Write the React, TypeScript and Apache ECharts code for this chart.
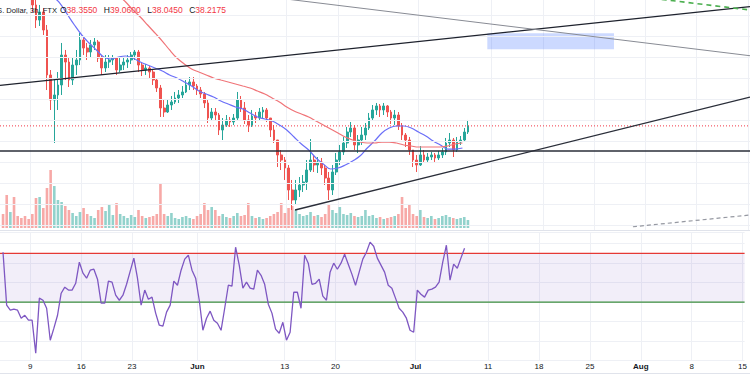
import React, { useEffect, useRef } from 'react';
import * as echarts from 'echarts';

// time axis: days after 9 May 2022 (00:00); candles are 12h buckets
const FIRST_CANDLE_DAY = -3.75;
const CANDLE_STEP_DAYS = 0.5;
const X_MIN = -4.166;
const X_MAX = 98.28;
const PRICE_MIN = 23.343;
const PRICE_MAX = 56.2;

const opens = [
  86.0, 84.5, 83.0, 85.2, 81.0, 79.6, 78.2, 76.5, 71.0, 55.49,
  53.34, 54.49, 51.91, 45.49, 41.91, 42.63, 44.06, 48.34, 47.34, 44.77,
  46.91, 47.63, 50.49, 49.34, 48.77, 49.77, 50.2, 47.91, 46.49, 47.34,
  47.63, 47.91, 46.2, 46.91, 47.34, 47.63, 48.34, 48.77, 46.91, 46.2,
  46.49, 45.91, 44.77, 43.63, 40.77, 40.2, 41.2, 41.63, 42.2, 42.63,
  43.06, 44.06, 44.49, 43.91, 43.34, 42.77, 41.49, 39.34, 40.2, 39.77,
  37.63, 38.34, 39.06, 38.77, 39.34, 41.91, 40.77, 39.06, 38.34, 39.63,
  39.34, 40.2, 40.49, 39.34, 37.63, 36.2, 34.06, 33.34, 32.2, 29.06,
  27.63, 29.06, 29.77, 30.2, 31.91, 33.34, 32.63, 33.06, 32.2, 30.77,
  29.06, 31.63, 33.34, 34.49, 35.77, 37.34, 37.91, 35.49, 36.2, 36.91,
  37.91, 39.34, 40.49, 41.06, 40.49, 41.06, 40.2, 39.34, 39.77, 38.2,
  36.91, 36.2, 34.77, 33.34, 32.63, 34.06, 33.34, 33.77, 34.06, 33.63,
  34.06, 34.49, 35.77, 36.2, 34.77, 35.91, 36.2, 37.34,
];
const closes = [
  84.5, 83.0, 85.2, 81.0, 79.6, 78.2, 76.5, 71.0, 55.49, 53.34,
  54.49, 51.91, 45.49, 41.91, 42.63, 44.06, 48.34, 47.34, 44.77, 46.91,
  47.63, 50.49, 49.34, 48.77, 49.77, 50.2, 47.91, 46.49, 47.34, 47.63,
  47.91, 46.2, 46.91, 47.34, 47.63, 48.34, 48.77, 46.91, 46.2, 46.49,
  45.91, 44.77, 43.63, 40.77, 40.2, 41.2, 41.63, 42.2, 42.63, 43.06,
  44.06, 44.49, 43.91, 43.34, 42.77, 41.49, 39.34, 40.2, 39.77, 37.63,
  38.34, 39.06, 38.77, 39.34, 41.91, 40.77, 39.06, 38.34, 39.63, 39.34,
  40.2, 40.49, 39.34, 37.63, 36.2, 34.06, 33.34, 32.2, 29.06, 27.63,
  29.06, 29.77, 30.2, 31.91, 33.34, 32.63, 33.06, 32.2, 30.77, 29.06,
  31.63, 33.34, 34.49, 35.77, 37.34, 37.91, 35.49, 36.2, 36.91, 37.91,
  39.34, 40.49, 41.06, 40.49, 41.06, 40.2, 39.34, 39.77, 38.2, 36.91,
  36.2, 34.77, 33.34, 32.63, 34.06, 33.34, 33.77, 34.06, 33.63, 34.06,
  34.49, 35.77, 36.2, 34.77, 35.91, 36.2, 37.34, 38.2175,
];
const highs = [
  87.5, 85.6, 86.4, 85.9, 82.2, 80.5, 79.0, 77.1, 71.6, 56.63,
  55.49, 55.06, 52.63, 46.2, 45.06, 45.91, 50.06, 49.06, 47.91, 47.91,
  49.06, 51.49, 50.77, 50.06, 50.49, 50.77, 50.49, 48.34, 48.34, 48.34,
  48.34, 48.06, 47.91, 48.06, 48.34, 48.77, 49.06, 49.06, 47.2, 47.06,
  46.77, 46.2, 45.06, 44.06, 41.91, 41.91, 42.49, 43.06, 43.34, 43.91,
  44.77, 45.2, 45.2, 44.2, 43.77, 43.06, 41.91, 40.77, 40.77, 40.06,
  39.34, 39.77, 39.49, 39.91, 43.06, 42.49, 41.63, 39.77, 40.49, 40.2,
  40.77, 40.91, 40.77, 39.34, 38.34, 36.2, 34.77, 33.77, 32.63, 30.49,
  30.49, 30.91, 31.2, 33.34, 36.34, 34.06, 33.77, 33.63, 32.63, 31.63,
  32.63, 34.34, 35.49, 36.63, 38.06, 38.77, 38.34, 36.91, 38.06, 38.63,
  40.06, 41.2, 41.49, 41.34, 41.49, 41.2, 40.49, 40.49, 40.2, 38.63,
  37.2, 36.63, 34.77, 34.06, 35.34, 34.77, 34.34, 34.49, 34.34, 34.63,
  35.06, 36.49, 37.2, 36.49, 36.63, 36.77, 37.91, 39.06,
];
const lows = [
  83.2, 81.8, 82.5, 80.3, 78.4, 76.9, 74.8, 69.5, 54.49, 52.2,
  52.49, 51.2, 43.34, 40.49, 35.77, 40.49, 42.63, 44.77, 43.77, 44.06,
  45.49, 46.91, 48.34, 47.63, 47.91, 49.06, 47.34, 45.49, 45.91, 46.49,
  46.91, 45.49, 45.91, 46.2, 46.49, 47.06, 47.63, 45.91, 45.34, 45.49,
  45.06, 44.06, 43.06, 39.49, 39.49, 40.06, 40.49, 41.34, 41.49, 42.2,
  42.91, 43.34, 43.34, 42.63, 42.2, 40.77, 38.63, 38.91, 39.06, 36.91,
  36.2, 38.06, 38.06, 38.34, 39.06, 40.2, 38.49, 37.34, 38.06, 38.63,
  39.06, 39.34, 38.77, 36.63, 35.77, 32.34, 31.91, 30.49, 27.63, 26.2,
  26.91, 28.06, 28.77, 29.06, 31.63, 31.63, 31.49, 31.2, 29.77, 27.63,
  28.34, 31.2, 32.63, 34.06, 35.06, 36.63, 34.77, 34.34, 35.49, 36.2,
  37.63, 39.06, 39.77, 39.49, 39.77, 39.49, 38.49, 38.34, 37.63, 36.2,
  35.2, 34.06, 32.34, 31.63, 32.49, 32.91, 33.06, 33.34, 33.06, 33.34,
  33.63, 34.06, 35.2, 33.77, 34.49, 35.49, 36.06, 37.06,
];
const volumes = [
  28, 66, 32, 62, 24, 20, 24, 18, 28, 60,
  62, 40, 80, 116, 84, 56, 52, 44, 36, 30,
  24, 32, 40, 28, 24, 20, 36, 42, 34, 46,
  26, 50, 28, 24, 20, 26, 22, 36, 24, 20,
  22, 24, 28, 88, 28, 24, 30, 20, 18, 22,
  24, 20, 18, 24, 28, 50, 36, 42, 36, 24,
  28, 22, 20, 24, 30, 24, 26, 50, 24, 20,
  22, 18, 20, 24, 28, 32, 50, 30, 40, 44,
  36, 28, 24, 26, 32, 24, 26, 22, 28, 46,
  36, 30, 42, 28, 26, 30, 24, 22, 24, 36,
  24, 26, 20, 22, 18, 20, 22, 24, 28, 62,
  40, 46, 28, 24, 36, 22, 20, 24, 18, 20,
  24, 26, 22, 20, 18, 20, 22, 16,
];
const VOLUME_MAX = 456;
const rsiValues = [
  75.6, 48.5, 45.9, 46.4, 45.9, 41.8, 43.3, 40.8, 40.8, 23.8,
  52.1, 51.0, 46.9, 30.5, 36.7, 43.3, 54.6, 57.7, 56.2, 56.2,
  59.7, 70.5, 64.9, 62.3, 66.4, 66.9, 61.8, 49.5, 49.5, 60.8,
  60.3, 53.6, 51.0, 53.6, 59.2, 65.9, 72.6, 62.3, 48.5, 56.2,
  51.5, 52.6, 44.4, 38.2, 37.7, 44.9, 48.5, 60.8, 58.7, 66.4,
  72.1, 74.1, 66.4, 62.3, 51.0, 35.6, 41.8, 45.4, 40.8, 39.2,
  35.6, 46.9, 58.7, 58.2, 78.2, 69.0, 57.2, 60.3, 57.2, 56.7,
  66.4, 63.8, 59.2, 49.0, 44.4, 36.2, 34.1, 39.7, 30.5, 34.6,
  55.1, 55.1, 46.9, 74.1, 70.0, 59.2, 59.7, 61.8, 53.1, 51.0,
  65.4, 70.0, 66.9, 70.0, 74.6, 69.5, 64.4, 58.7, 65.4, 72.1,
  75.6, 80.8, 78.7, 72.6, 69.0, 65.4, 58.7, 57.2, 52.1, 46.9,
  44.9, 41.8, 35.6, 34.6, 56.2, 54.1, 52.6, 56.2, 56.7, 57.7,
  60.3, 70.5, 79.2, 61.3, 69.5, 67.4, 72.6, 77.7,
];
const RSI_MIN = 20;
const RSI_MAX = 86;
const rsiUpper = 75;
const rsiLower = 50;

const maDays = [
  -3, -2, -1, 0, 1, 2, 3, 4, 5, 6, 7, 8, 9, 10, 11, 12, 13, 14, 15, 16, 17,
  18, 19, 20, 21, 22, 23, 24, 25, 26, 27, 28, 29, 30, 31, 32, 33, 34, 35, 36,
  37, 38, 39, 40, 41, 42, 43, 44, 45, 46, 47, 48, 49, 50, 51, 52, 53, 54, 55,
  56, 57, 58, 59,
];
const maFast = [
  69.06, 66.2, 63.34, 61.2, 59.34, 57.91, 56.77, 55.77, 54.2, 52.63,
  51.2, 50.06, 49.06, 48.06, 47.77, 48.06, 48.2, 47.91, 47.34, 46.91,
  46.49, 46.06, 45.49, 45.06, 44.49, 43.91, 43.2, 42.77, 42.34, 41.77,
  41.34, 40.91, 40.63, 40.06, 39.49, 39.2, 38.91, 38.34, 37.63, 36.63,
  35.63, 34.77, 33.63, 32.77, 32.06, 32.2, 32.63, 33.2, 33.91, 35.06,
  36.06, 37.2, 37.91, 38.2, 38.2, 37.91, 37.34, 36.77, 36.06, 35.49,
  34.91, 34.91, 35.06,
];
const maSlow = [
  74.77, 73.91, 73.06, 72.2, 71.2, 70.2, 69.06, 67.91, 66.63, 65.34,
  64.06, 62.63, 61.2, 59.77, 58.34, 56.91, 55.91, 54.77, 53.77, 52.63,
  51.49, 50.34, 49.06, 47.91, 47.06, 46.34, 45.91, 45.49, 45.06, 44.77,
  44.49, 44.2, 43.91, 43.63, 43.2, 42.77, 42.2, 41.63, 40.91, 40.34,
  39.91, 39.49, 38.91, 38.34, 37.77, 37.2, 36.63, 36.2, 35.91, 35.77,
  35.77, 35.91, 35.91, 35.77, 35.49, 35.34, 35.2, 35.2, 35.2, 35.2,
  35.34, 35.63, 35.77,
];

const tickDays = [0, 7, 14, 23, 35, 42, 53, 63, 70, 77, 84, 91, 98];
const tickLabels = ['9', '16', '23', 'Jun', '13', '20', 'Jul', '11', '18', '25', 'Aug', '8', '15'];
const monthLabels = ['Jun', 'Jul', 'Aug'];
const priceGridLevels = [24, 27, 30, 33, 36, 39, 42, 45, 48, 51, 54];

const supportLevel = 34.63;
const lastPrice = 38.2175;
const trendTop = [[-4.166, 43.99], [98.28, 55.24]];
const trendFalling = [[30, 56.97], [98.28, 48.24]];
const trendRising = [[36.13, 26.2], [98.28, 42.34]];
const trendDashedGray = [[82.29, 23.81], [98.28, 25.49]];
const trendDashedGreen = [[85, 56.44], [98.28, 54.77]];
const zoneBox = [[62.4, 51.44], [79.7, 49.16]];

const symbolTitle = 'Solana / U.S. Dollar, 3h, FTX';
const ohlcKeys = ['O', 'H', 'L', 'C'];
const ohlcValues = ['38.3550', '39.0600', '38.0450', '38.2175'];

const UP = '#26a69a';
const DOWN = '#ef5350';
const FONT = "'Liberation Sans', Arial, sans-serif";

export default function App() {
  const ref = useRef<HTMLDivElement>(null);

  useEffect(() => {
    if (!ref.current) return;
    const chart = echarts.init(ref.current, null, { renderer: 'svg' });

    const days = closes.map((_, i) => FIRST_CANDLE_DAY + i * CANDLE_STEP_DAYS);
    const candleData = days.map((d, i) => [d, opens[i], closes[i], lows[i], highs[i]]);
    const volumeData = days.map((d, i) => ({
      value: [d, volumes[i]],
      itemStyle: { color: closes[i] >= opens[i] ? 'rgba(38,166,154,0.5)' : 'rgba(239,83,80,0.5)' },
    }));
    const rsiData = days.map((d, i) => [d, rsiValues[i]]);
    const fastData = maDays.map((d, i) => [d, maFast[i]]);
    const slowData = maDays.map((d, i) => [d, maSlow[i]]);

    const labelFor = (v: number) => {
      const k = tickDays.indexOf(Math.round(v));
      const t = k >= 0 ? tickLabels[k] : '';
      return monthLabels.includes(t) ? `{m|${t}}` : t;
    };

    const xAxisFor = (gridIndex: number, withLabels: boolean, visible: boolean) => ({
      type: 'value',
      gridIndex,
      min: X_MIN,
      max: X_MAX,
      show: visible,
      axisLine: { show: false },
      axisTick: { show: false, customValues: tickDays },
      axisLabel: withLabels
        ? {
            show: true,
            customValues: tickDays,
            formatter: labelFor,
            margin: 2,
            color: '#131722',
            fontSize: 8,
            fontFamily: FONT,
            showMinLabel: true,
            showMaxLabel: true,
            rich: { m: { fontWeight: 'bold', fontSize: 8, color: '#131722', fontFamily: FONT } },
          }
        : { show: false },
      splitLine: { show: true, lineStyle: { color: '#eef0f5', width: 1 } },
    });

    const lineSeries = (
      axisIndex: number,
      data: number[][],
      color: string,
      width: number,
      type: any,
      z: number,
    ) => ({
      type: 'line',
      xAxisIndex: axisIndex,
      yAxisIndex: axisIndex,
      data,
      symbol: 'none',
      silent: true,
      clip: true,
      z,
      lineStyle: { color, width, type },
    });

    // horizontal level across the whole pane, anchored at the axis ends
    const level = (axisIndex: number, value: number, color: string, width: number, type: any, z: number) =>
      lineSeries(axisIndex, [[X_MIN, value], [X_MAX, value]], color, width, type, z);

    const ohlcText = ohlcKeys
      .map((k, i) => `${i > 0 ? '{s| }' : ''}{k|${k}}{v|${ohlcValues[i]}}`)
      .join('');

    chart.setOption({
      animation: false,
      backgroundColor: '#ffffff',
      textStyle: { fontFamily: FONT },
      grid: [
        { left: 0, right: 0, top: 0, height: 230 },
        { left: 0, right: 0, top: 0, height: 228 },
        { left: 0, right: 0, top: 232, height: 128.7 },
      ],
      xAxis: [xAxisFor(0, false, true), xAxisFor(1, false, false), xAxisFor(2, true, true)],
      yAxis: [
        { type: 'value', gridIndex: 0, min: PRICE_MIN, max: PRICE_MAX, show: false },
        { type: 'value', gridIndex: 1, min: 0, max: VOLUME_MAX, show: false },
        {
          type: 'value',
          gridIndex: 2,
          min: RSI_MIN,
          max: RSI_MAX,
          interval: 10,
          axisLine: { show: false },
          axisTick: { show: false },
          axisLabel: { show: false },
          splitLine: { show: true, lineStyle: { color: '#eef0f5', width: 1 } },
        },
      ],
      graphic: [
        {
          type: 'line',
          silent: true,
          shape: { x1: 0, y1: 230.5, x2: 750, y2: 230.5 },
          style: { stroke: '#e0e3eb', lineWidth: 1 },
        },
        {
          type: 'line',
          silent: true,
          shape: { x1: 0, y1: 373.5, x2: 750, y2: 373.5 },
          style: { stroke: '#e0e3eb', lineWidth: 1 },
        },
        {
          type: 'text',
          silent: true,
          z: 100,
          style: {
            text: symbolTitle,
            x: 57,
            y: 10,
            align: 'right',
            verticalAlign: 'middle',
            fontSize: 7.6,
            fontFamily: FONT,
            fill: '#131722',
          },
        },
        {
          type: 'text',
          silent: true,
          z: 100,
          style: {
            text: ohlcText,
            x: 60,
            y: 10,
            verticalAlign: 'middle',
            fontSize: 8.5,
            fontFamily: FONT,
            rich: {
              k: { fill: '#131722', fontSize: 8.5, fontFamily: FONT },
              v: { fill: '#f23645', fontSize: 8.5, fontFamily: FONT },
              s: { width: 6.5, fontSize: 8.5 },
            },
          },
        },
      ],
      series: [
        {
          type: 'line',
          name: 'price grid',
          xAxisIndex: 0,
          yAxisIndex: 0,
          data: [],
          silent: true,
          z: 0,
          markLine: {
            silent: true,
            symbol: ['none', 'none'],
            label: { show: false },
            lineStyle: { color: '#eef0f5', width: 1, type: 'solid' },
            data: priceGridLevels.map((v) => ({ yAxis: v })),
          },
        },
        {
          type: 'bar',
          name: 'Volume',
          xAxisIndex: 1,
          yAxisIndex: 1,
          data: volumeData,
          barWidth: 2.6,
          silent: true,
          z: 1,
        },
        {
          type: 'candlestick',
          name: 'SOLUSD',
          xAxisIndex: 0,
          yAxisIndex: 0,
          data: candleData,
          encode: { x: 0, y: [1, 2, 3, 4] },
          barWidth: 2.3,
          clip: true,
          z: 2,
          itemStyle: { color: UP, color0: DOWN, borderColor: UP, borderColor0: DOWN, borderWidth: 1 },
        },
        level(0, lastPrice, '#f23645', 1, [1, 2], 3),
        {
          type: 'line',
          name: 'MA fast',
          xAxisIndex: 0,
          yAxisIndex: 0,
          data: fastData,
          smooth: 0.4,
          symbol: 'none',
          clip: true,
          z: 3,
          lineStyle: { color: '#6b6ff8', width: 1.2 },
        },
        {
          type: 'line',
          name: 'MA slow',
          xAxisIndex: 0,
          yAxisIndex: 0,
          data: slowData,
          smooth: 0.4,
          symbol: 'none',
          clip: true,
          z: 3,
          lineStyle: { color: '#f07478', width: 1.2 },
        },
        {
          ...lineSeries(0, trendTop, '#1e222d', 1.3, 'solid', 6),
          markArea: {
            silent: true,
            itemStyle: { color: 'rgba(41,98,255,0.24)' },
            data: [[{ coord: zoneBox[0] }, { coord: zoneBox[1] }]],
          },
        },
        level(0, supportLevel, '#2a2e39', 1.4, 'solid', 6),
        lineSeries(0, trendFalling, '#888b94', 1, 'solid', 6),
        lineSeries(0, trendRising, '#2a2e39', 1.3, 'solid', 6),
        lineSeries(0, trendDashedGray, '#9598a1', 1.2, [4, 3], 6),
        lineSeries(0, trendDashedGreen, '#4caf50', 1.6, [5, 4], 6),
        {
          type: 'line',
          name: 'RSI band',
          xAxisIndex: 2,
          yAxisIndex: 2,
          data: [],
          silent: true,
          z: 1,
          markArea: {
            silent: true,
            itemStyle: { color: 'rgba(126,87,194,0.1)' },
            data: [[{ yAxis: rsiLower }, { yAxis: rsiUpper }]],
          },
        },
        level(2, rsiUpper, '#e53935', 1.2, 'solid', 2),
        level(2, rsiLower, '#3d8f3f', 1.2, 'solid', 2),
        {
          type: 'line',
          name: 'RSI',
          xAxisIndex: 2,
          yAxisIndex: 2,
          data: rsiData,
          symbol: 'none',
          z: 4,
          lineStyle: { color: '#7e57c2', width: 1.3 },
        },
      ],
    });

    return () => chart.dispose();
  }, []);

  return (
    <div
      ref={ref}
      style={{ position: 'fixed', left: 0, top: 0, width: 750, height: 375, background: '#fff' }}
    />
  );
}
